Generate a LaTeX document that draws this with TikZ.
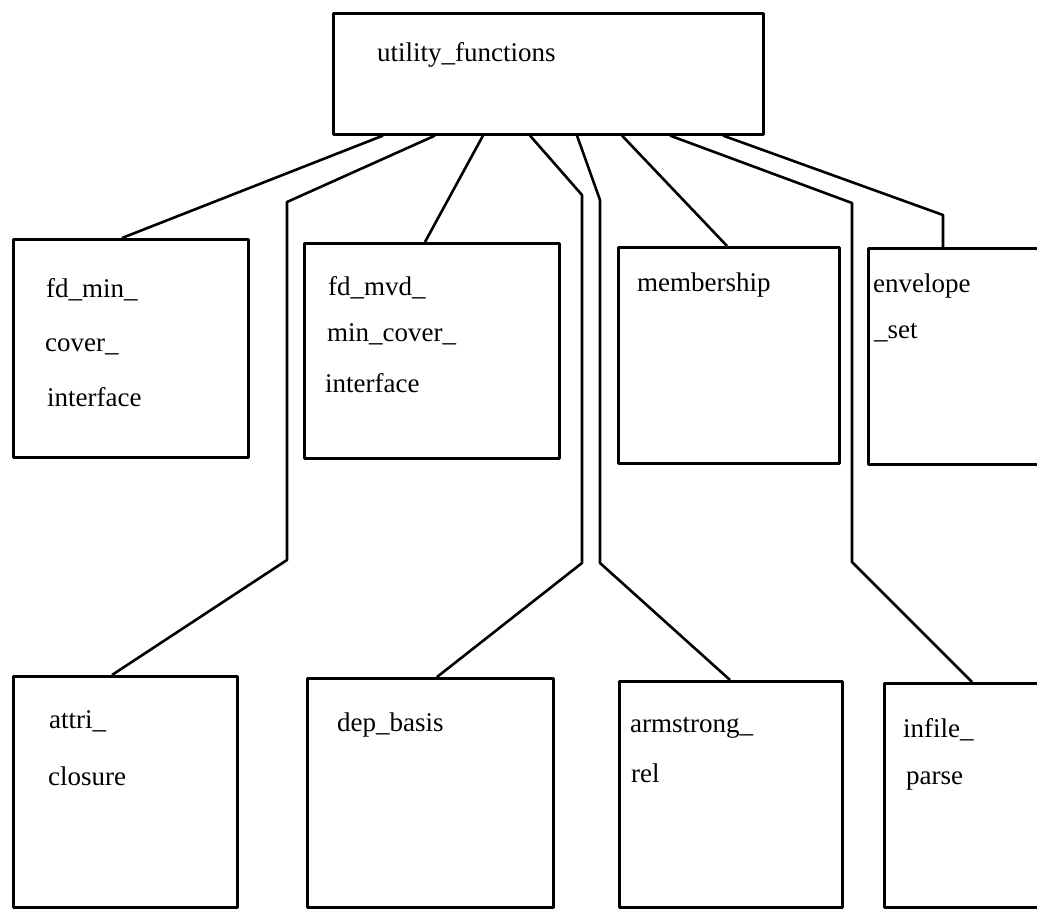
\documentclass[tikz,border=0pt]{standalone}
\usepackage{fontspec}
\setmainfont{Liberation Serif}
\begin{document}
\begin{tikzpicture}[x=1pt,y=-1pt,
  modbox/.style={draw, rectangle, anchor=north west, inner sep=0pt, line width=2.6pt, line join=round},
  lbl/.style={anchor=base west, inner sep=0pt, font=\fontsize{27}{32}\selectfont},
  link/.style={draw, line width=2.6pt, line join=round}]
\useasboundingbox (0,0) rectangle (1037,909);
\clip (0,0) rectangle (1037,909);

% top-level module
\node[modbox, minimum width=430, minimum height=121] (util) at (332,12) {};
\node[lbl] (utilT) at (377,62) {utility\_functions};

% second row
\node[modbox, minimum width=235, minimum height=218] (fdmin) at (12,238) {};
\node[lbl] (fdminA) at (46,298) {fd\_min\_};
\node[lbl] (fdminB) at (45,352) {cover\_};
\node[lbl] (fdminC) at (47,407) {interface};

\node[modbox, minimum width=255, minimum height=215] (fdmvd) at (303,242) {};
\node[lbl] (fdmvdA) at (328,296) {fd\_mvd\_};
\node[lbl] (fdmvdB) at (327,342) {min\_cover\_};
\node[lbl] (fdmvdC) at (325,393) {interface};

\node[modbox, minimum width=221, minimum height=216] (memb) at (617,246) {};
\node[lbl] (membA) at (637,292) {membership};

\node[modbox, minimum width=240, minimum height=216] (env) at (867,247) {};
\node[lbl] (envA) at (873,293) {envelope};
\node[lbl] (envB) at (874,339) {\_set};

% third row
\node[modbox, minimum width=224, minimum height=231] (attr) at (12,675) {};
\node[lbl] (attrA) at (49,728) {attri\_};
\node[lbl] (attrB) at (48,785) {closure};

\node[modbox, minimum width=246, minimum height=229] (dep) at (306,677) {};
\node[lbl] (depA) at (337,731) {dep\_basis};

\node[modbox, minimum width=223, minimum height=226] (arm) at (618,680) {};
\node[lbl] (armA) at (630,732) {armstrong\_};
\node[lbl] (armB) at (631,782) {rel};

\node[modbox, minimum width=240, minimum height=224] (inf) at (883,682) {};
\node[lbl] (infA) at (903,737) {infile\_};
\node[lbl] (infB) at (906,784) {parse};

% bend points of the long connectors
\coordinate (b2a) at (287,202);
\coordinate (b2b) at (287,560);
\coordinate (b4a) at (582,195);
\coordinate (b4b) at (582,563);
\coordinate (b5a) at (600,200);
\coordinate (b5b) at (600,563);
\coordinate (b7a) at (852,203);
\coordinate (b7b) at (852,562);
\coordinate (b8a) at (943,215);

% connectors
\draw[link] ([xshift=51]util.south west) -- ([xshift=110]fdmin.north west);
\draw[link] ([xshift=103]util.south west) -- (b2a) -- (b2b) -- ([xshift=100]attr.north west);
\draw[link] ([xshift=151]util.south west) -- ([xshift=122]fdmvd.north west);
\draw[link] ([xshift=198]util.south west) -- (b4a) -- (b4b) -- ([xshift=131]dep.north west);
\draw[link] ([xshift=245]util.south west) -- (b5a) -- (b5b) -- ([xshift=112]arm.north west);
\draw[link] ([xshift=290]util.south west) -- ([xshift=110]memb.north west);
\draw[link] ([xshift=338]util.south west) -- (b7a) -- (b7b) -- ([xshift=89]inf.north west);
\draw[link] ([xshift=391]util.south west) -- (b8a) -- ([xshift=76]env.north west);
\end{tikzpicture}
\end{document}
